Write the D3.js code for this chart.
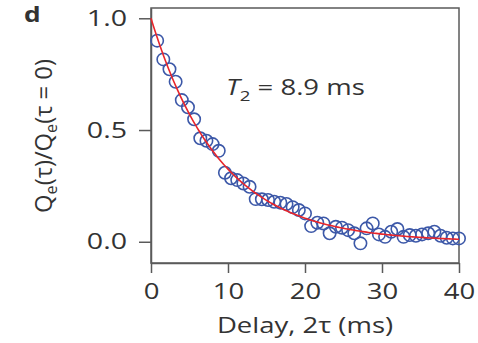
<html>
<head>
<meta charset="utf-8">
<script src="https://d3js.org/d3.v7.min.js"></script>
<style>
  body { margin: 0; background: #fff; }
  svg text { font-family: "Open Sans", sans-serif; fill: #333; }
</style>
</head>
<body>
<div id="chart"></div>
<script>
// delay 2tau (ms), one point every 0.8 ms
var delay = [0.8, 1.6, 2.4, 3.2, 4.0, 4.8, 5.6, 6.4, 7.2, 8.0,
             8.8, 9.6, 10.4, 11.2, 12.0, 12.8, 13.6, 14.4, 15.2, 16.0,
             16.8, 17.6, 18.4, 19.2, 20.0, 20.8, 21.6, 22.4, 23.2, 24.0,
             24.8, 25.6, 26.4, 27.2, 28.0, 28.8, 29.6, 30.4, 31.2, 32.0,
             32.8, 33.6, 34.4, 35.2, 36.0, 36.8, 37.6, 38.4, 39.2, 40.0];
// Qe(tau)/Qe(0)
var qRatio = [0.900, 0.816, 0.772, 0.716, 0.634, 0.602, 0.548, 0.463, 0.452, 0.437,
              0.407, 0.309, 0.284, 0.276, 0.261, 0.246, 0.191, 0.190, 0.187, 0.179,
              0.175, 0.169, 0.155, 0.142, 0.127, 0.070, 0.085, 0.082, 0.038, 0.067,
              0.063, 0.052, 0.038, -0.007, 0.060, 0.082, 0.033, 0.022, 0.045, 0.057,
              0.022, 0.030, 0.027, 0.033, 0.038, 0.045, 0.027, 0.018, 0.015, 0.015];
var T2 = 8.9;  // fitted decay time (ms)
var xTicks = [0, 10, 20, 30, 40];
var yTicks = [0.0, 0.5, 1.0];

var W = 478, H = 343;
var pLeft = 151, pRight = 459, pTop = 8, pBottom = 263;
var stretch = 1.25;  // the original figure's lettering is wide

var svg = d3.select("#chart").append("svg")
    .attr("width", W).attr("height", H);

var x = d3.scaleLinear().domain([0, 40]).range([pLeft, pRight]);
var y = d3.scaleLinear().domain([-0.095, 1.046]).range([pBottom, pTop]);

// frame
svg.append("rect")
    .attr("x", pLeft).attr("y", pTop)
    .attr("width", pRight - pLeft).attr("height", pBottom - pTop)
    .attr("fill", "none").attr("stroke", "#5a5a5a").attr("stroke-width", 1.5);

// axes
var xAxis = svg.append("g")
    .attr("transform", "translate(0," + pBottom + ")")
    .call(d3.axisBottom(x).tickValues(xTicks).tickFormat(d3.format("d"))
      .tickSize(10).tickSizeOuter(0).tickPadding(10));
var yAxis = svg.append("g")
    .attr("transform", "translate(" + pLeft + ",0)")
    .call(d3.axisLeft(y).tickValues(yTicks).tickFormat(d3.format(".1f"))
      .tickSize(12).tickSizeOuter(0).tickPadding(12));

[xAxis, yAxis].forEach(function(a) {
  a.select(".domain").attr("stroke", "#5a5a5a").attr("stroke-width", 1.5);
  a.selectAll(".tick line").attr("stroke", "#5a5a5a").attr("stroke-width", 1.5);
  a.selectAll(".tick text").attr("font-size", 22).attr("fill", "#333")
    .style("font-family", "'Open Sans', sans-serif");
});
xAxis.selectAll(".tick text").attr("transform", "scale(" + stretch + ",1)");
yAxis.selectAll(".tick text").attr("x", 0)
  .attr("transform", "translate(-24,0) scale(1.3,1)");

// data circles
svg.append("g").selectAll("circle")
  .data(delay)
  .join("circle")
    .attr("cx", function(d) { return x(d); })
    .attr("cy", function(d, i) { return y(qRatio[i]); })
    .attr("r", 6.2)
    .attr("fill", "none")
    .attr("stroke", "#3c58a8")
    .attr("stroke-width", 1.6);

// fit line
var fit = d3.range(0, 40.01, 0.25).map(function(t) { return [t, Math.exp(-t / T2)]; });
svg.append("path")
  .datum(fit)
  .attr("fill", "none")
  .attr("stroke", "#e8252b")
  .attr("stroke-width", 1.6)
  .attr("d", d3.line()
    .x(function(d) { return x(d[0]); })
    .y(function(d) { return y(d[1]); }));

// T2 label
var t2 = svg.append("text")
  .attr("transform", "translate(226,95) scale(" + stretch + ",1)")
  .attr("font-size", 22);
t2.append("tspan").attr("font-style", "italic").text("T");
t2.append("tspan").attr("font-size", 15).attr("dy", 6).text("2");
t2.append("tspan").attr("dy", -6).text(" = 8.9 ms");

// x label
svg.append("text")
  .attr("transform", "translate(305,333) scale(" + stretch + ",1)")
  .attr("text-anchor", "middle").attr("font-size", 22)
  .text("Delay, 2\u03c4 (ms)");

// y label
var yl = svg.append("text")
  .attr("transform", "translate(52,136) rotate(-90) scale(1.08,1.05)")
  .attr("text-anchor", "middle").attr("font-size", 22);
yl.append("tspan").text("Q");
yl.append("tspan").attr("font-size", 15).attr("dy", 5).text("e");
yl.append("tspan").attr("dy", -5).text("(\u03c4)/Q");
yl.append("tspan").attr("font-size", 15).attr("dy", 5).text("e");
yl.append("tspan").attr("dy", -5).text("(\u03c4 = 0)");

// panel letter
svg.append("text")
  .attr("transform", "translate(24,22) scale(" + stretch + ",1)")
  .attr("font-size", 21).attr("font-weight", "bold")
  .attr("fill", "#222")
  .text("d");
</script>
</body>
</html>
